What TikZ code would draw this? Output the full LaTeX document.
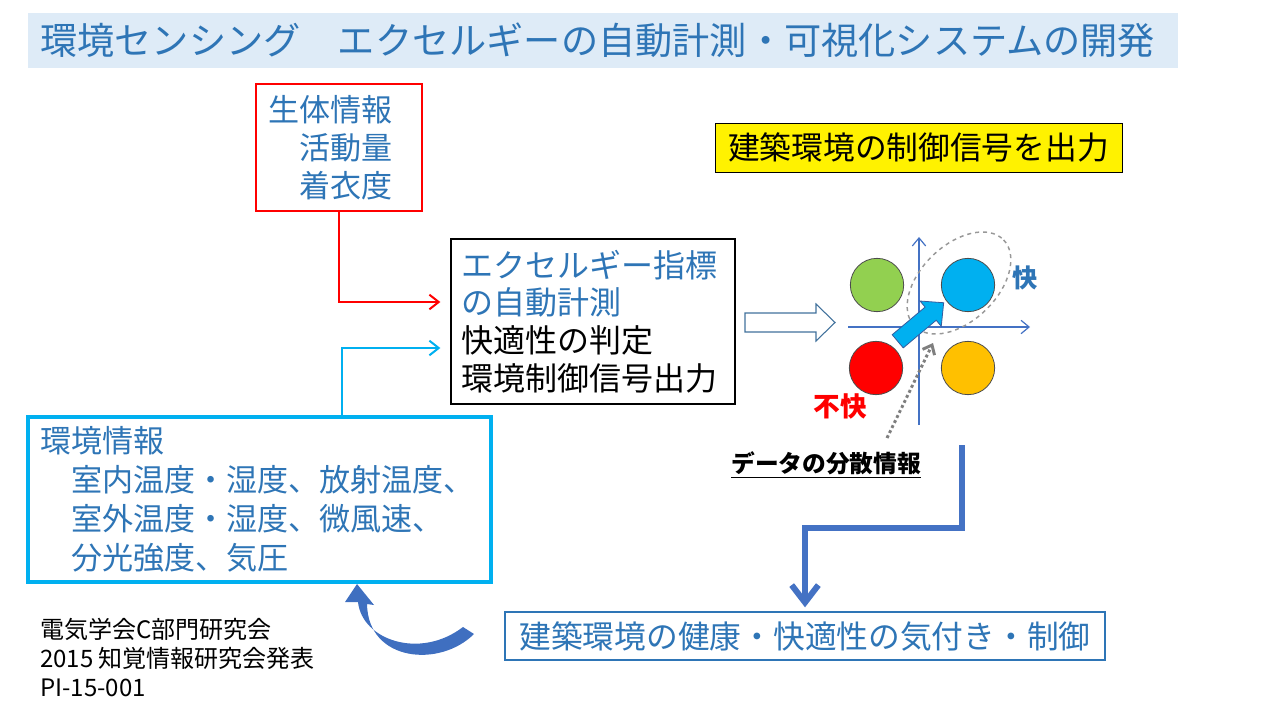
\documentclass[tikz,border=0pt]{standalone}
\usepackage{fontspec}
\setmainfont{Noto Sans CJK JP}
\usetikzlibrary{arrows.meta,calc}
\definecolor{tblue}{HTML}{2E75B6}
\definecolor{band}{HTML}{DEEBF7}
\definecolor{cyanb}{HTML}{00B0F0}
\definecolor{axisb}{HTML}{4472C4}
\definecolor{ogreen}{HTML}{92D050}
\definecolor{oorange}{HTML}{FFC000}
\definecolor{hollow}{HTML}{41719C}
\definecolor{dgray}{HTML}{7F7F7F}
\definecolor{arrowblue}{HTML}{3F6FC0}
\newcommand\fsz[2]{\fontsize{#1}{#2}\selectfont}
\tikzset{
  infobox/.style={rectangle, align=left, inner ysep=0pt},
  conn/.style={line width=1.5pt, -{Straight Barb[length=7pt,width=11pt]}},
  axisline/.style={axisb, line width=0.9pt, -{Straight Barb[length=6pt,width=10pt]}},
  dot/.style={circle, draw=black!70, line width=0.6pt, minimum size=40pt, inner sep=0pt},
}
\begin{document}
\begin{tikzpicture}[x=0.75pt,y=-0.75pt]
\useasboundingbox (0,0) rectangle (1280,720);
% title band
\fill[band] (28,13) rectangle (1178,68);
\node[anchor=west, inner sep=0pt, text=tblue, font=\fsz{27.9pt}{32pt}] (title) at (40,40)
  {環境センシング　エクセルギーの自動計測・可視化システムの開発};

% bio info box
\node[infobox, draw=red, line width=1.5pt, minimum width=124.5pt, minimum height=95.25pt,
  text width=106.5pt, inner xsep=9pt, text=tblue, font=\fsz{23.3pt}{28.5pt}] (bio) at (339,147.5)
  {生体情報\\　活動量\\　着衣度};

% central box
\node[infobox, draw=black, line width=1pt, minimum width=213pt, minimum height=123.75pt,
  text width=198pt, inner xsep=7.5pt, font=\fsz{24pt}{28.3pt}] (core) at (593,321.5)
  {\textcolor{tblue}{エクセルギー指標}\\\textcolor{tblue}{の自動計測}\\快適性の判定\\環境制御信号出力};

% environment box
\node[infobox, draw=cyanb, line width=2.5pt, minimum width=347.25pt, minimum height=123.75pt,
  text width=329.25pt, inner xsep=9pt, text=tblue, font=\fsz{23.3pt}{29.25pt}] (env) at (259.5,499.5)
  {環境情報\\　室内温度・湿度、放射温度、\\　室外温度・湿度、微風速、\\　分光強度、気圧};

% yellow label
\node[draw=black, line width=0.6pt, fill=yellow, minimum width=305.25pt, minimum height=36.75pt,
  inner sep=0pt, font=\fsz{23.8pt}{28pt}] (ctrl) at (918.5,147.5) {建築環境の制御信号を出力};

% bottom box
\node[draw=tblue, line width=1pt, minimum width=450pt, minimum height=36pt, inner sep=0pt,
  text=tblue, font=\fsz{23.8pt}{28pt}] (aware) at (805,636) {建築環境の健康・快適性の気付き・制御};

% connectors
\draw[conn, red] (bio.south) |- ([shift={(-10,-19.5)}]core.west);
\draw[conn, cyanb] ([shift={(82.5,0)}]env.north) |- ([shift={(-10,26.5)}]core.west);

% hollow arrow
\draw[hollow, line width=0.8pt, fill=white]
  (745,313) -- (816,313) -- (816,304) -- (835,322.5) -- (816,341) -- (816,332) -- (745,332) -- cycle;

% axes
\draw[axisline] (848,327) -- (1030,327);
\draw[axisline] (919,425) -- (919,237);

% dashed ellipse
\draw[dgray!80, dashed, line width=1.1pt, rotate around={44:(959,283)}]
  (959,283) ellipse [x radius=62, y radius=38];

% circles
\node[dot, fill=ogreen] (cg) at (877,285) {};
\node[dot, fill=cyanb] (cb) at (968,285) {};
\node[dot, fill=red] (cr) at (876,368) {};
\node[dot, fill=oorange] (co) at (968,368) {};

% fat arrow
\begin{scope}[shift={(897.7,341.3)}, rotate=40]
\filldraw[fill=cyanb, draw=axisb!80!black, line width=0.6pt]
  (0,-8.6) -- (43,-8.6) -- (43,-16.5) -- (60,0) -- (43,16.5) -- (43,8.6) -- (0,8.6) -- cycle;
\end{scope}

% labels
\node[text=tblue, font=\bfseries\fsz{19pt}{22pt}, inner sep=0pt] (kai) at (1025,278) {快};
\node[text=red, font=\bfseries\fsz{20pt}{22pt}, inner sep=0pt] (fukai) at (840,406) {不快};
\node[anchor=west, font=\bfseries\fsz{17.8pt}{22pt}, inner sep=0pt] (disp) at (731,465)
  {\underline{データの分散情報}};

% dotted arrow
\coordinate (dtail) at (887,438);
\coordinate (dhead) at (933,343);
\draw[dgray, line width=2.2pt, dotted, -{Straight Barb[length=6pt,width=10pt]}] (dtail) -- (dhead);

% big elbow arrow
\coordinate (bstart) at (962,445);
\draw[axisb, line width=4.5pt, -{Straight Barb[length=13pt,width=20pt]}, shorten >=3pt]
  (bstart) -- (962,528) -| (aware.north);

% curved arrow
\fill[arrowblue]
  (358,602) .. controls (362,640) and (420,660) .. (463,627) -- (474,634)
  .. controls (440,668) and (368,662) .. (367,604) -- (374,605) -- (357,584) -- (345,602) -- cycle;

% footer text
\node[anchor=north west, align=left, inner sep=0pt, font=\fsz{18pt}{21.75pt}] (foot) at (40,618)
  {電気学会C部門研究会\\2015 知覚情報研究会発表\\PI-15-001};
\end{tikzpicture}
\end{document}
